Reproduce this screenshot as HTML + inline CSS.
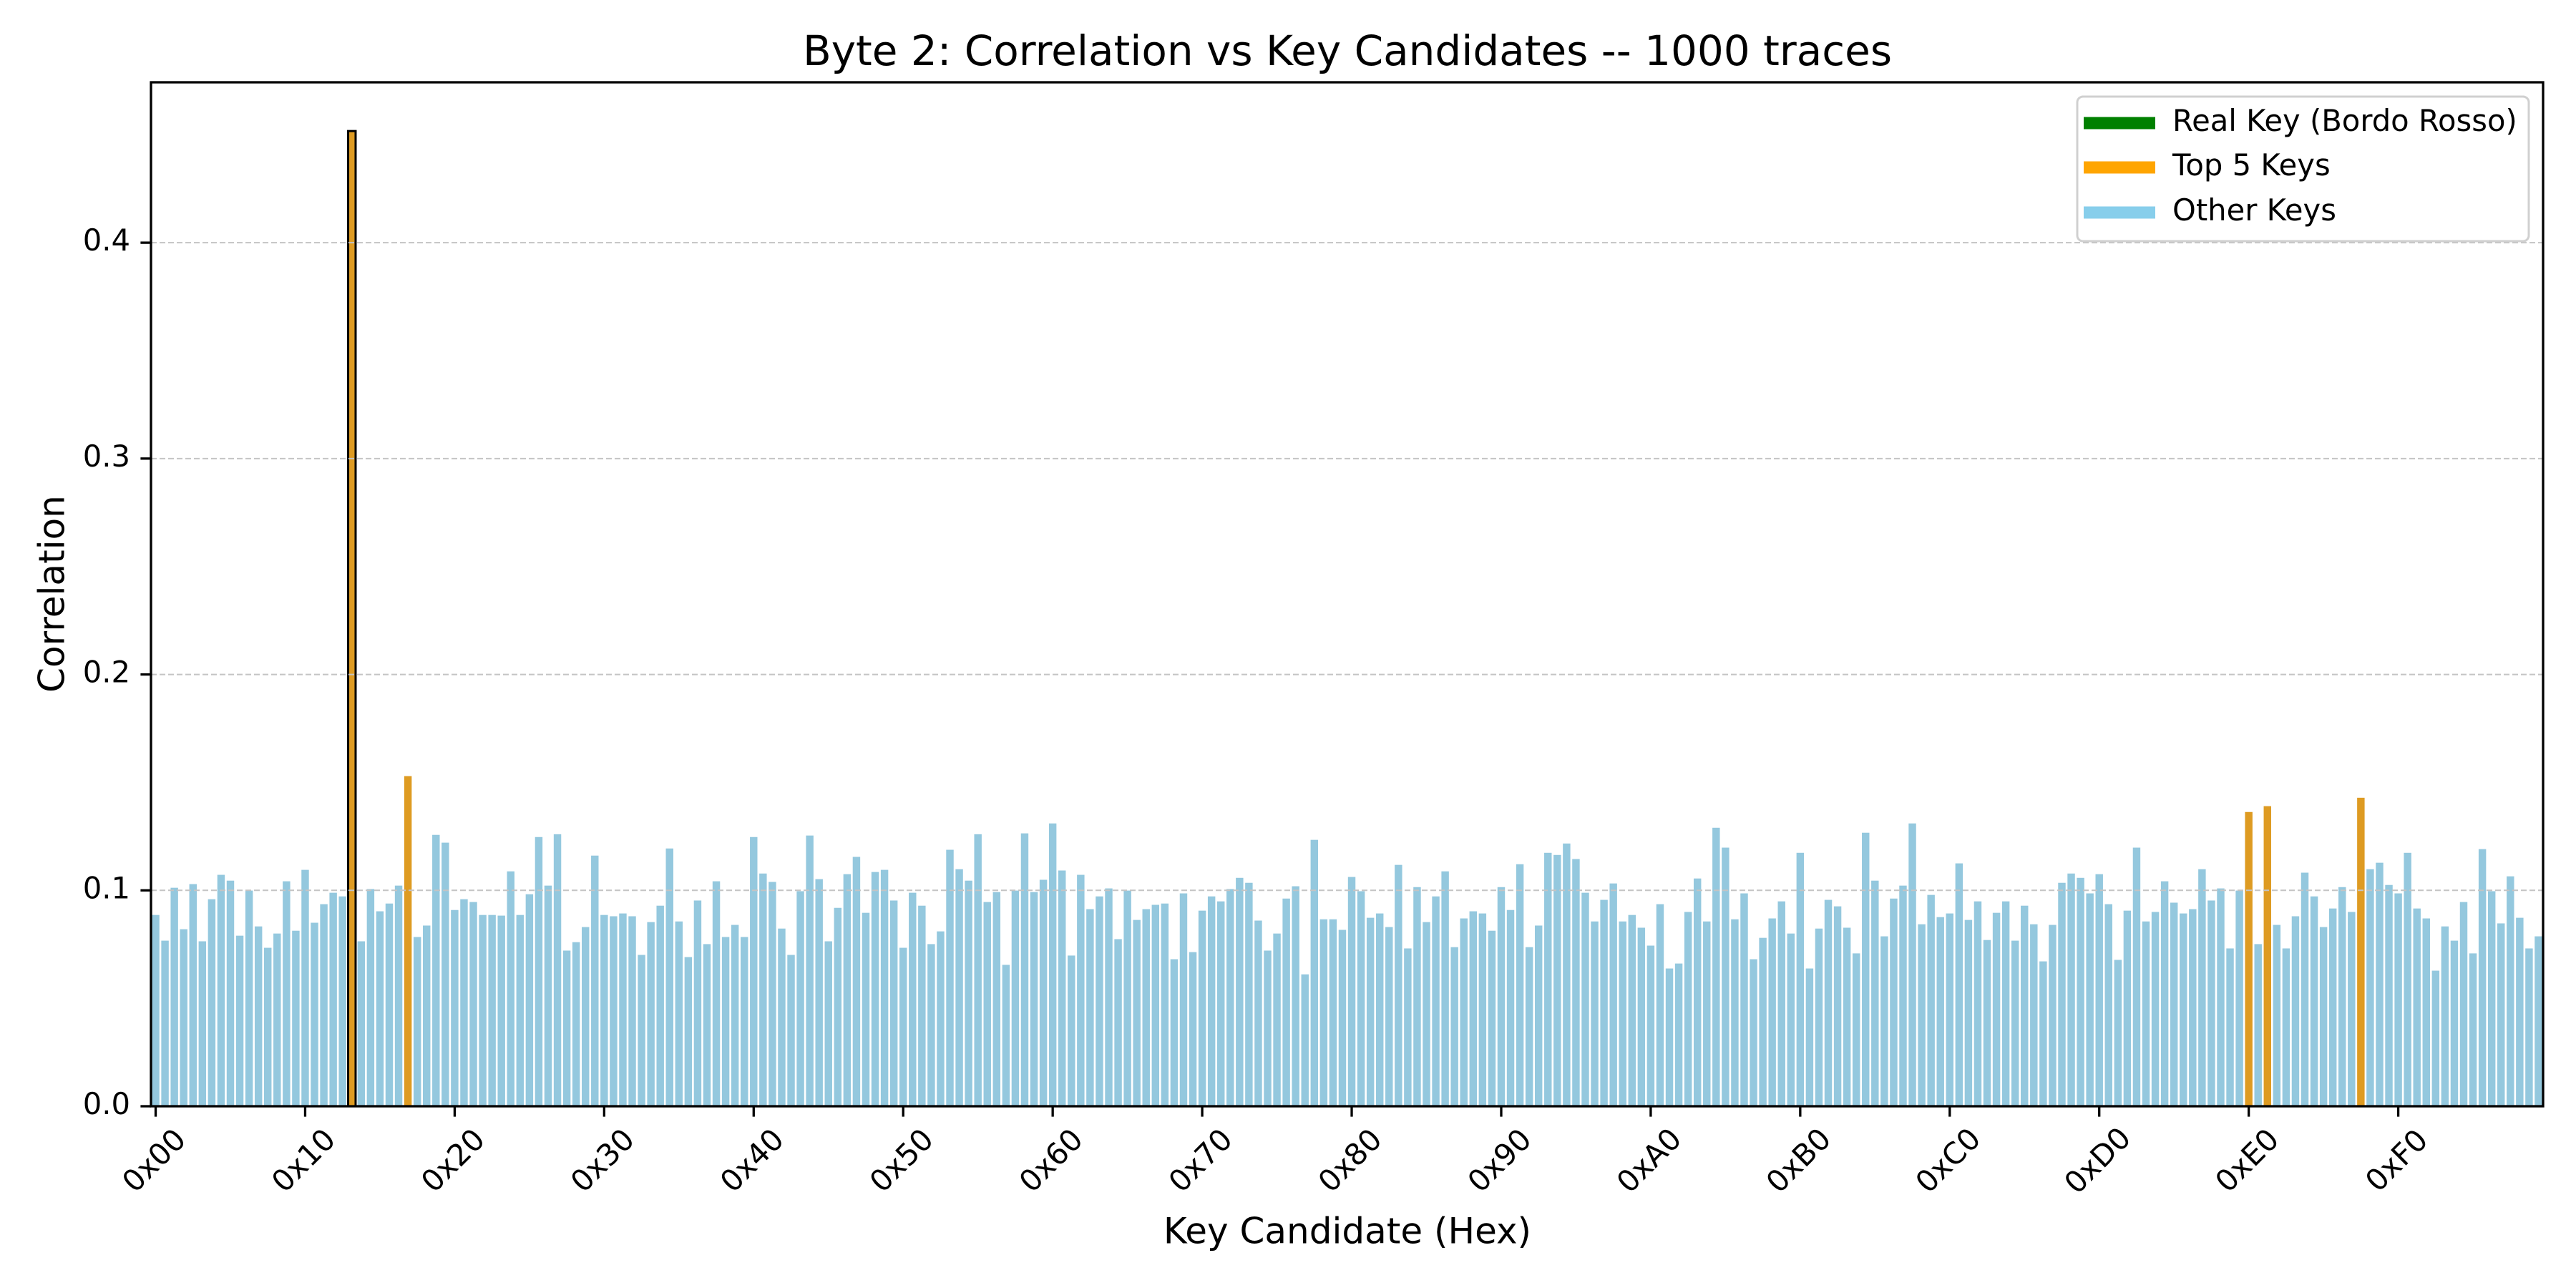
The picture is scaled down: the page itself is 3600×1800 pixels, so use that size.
<!DOCTYPE html>
<html><head><meta charset="utf-8"><style>
html,body{margin:0;padding:0;background:#fff;}
svg{display:block;}
text{font-family:"DejaVu Sans","Liberation Sans",sans-serif;fill:#000;}
</style></head><body>
<svg id="chart" width="3600" height="1800" viewBox="0 0 3600 1800" xmlns="http://www.w3.org/2000/svg">
<rect x="0" y="0" width="3600" height="1800" fill="#fff"/>
<g id="bars"></g>
<g id="grid"></g>
<g id="axes"></g>
<text x="1883" y="75" font-size="58" text-anchor="middle" dominant-baseline="middle">Byte 2: Correlation vs Key Candidates -- 1000 traces</text>
<text x="1883" y="1724" font-size="50" text-anchor="middle" dominant-baseline="middle">Key Candidate (Hex)</text>
<text x="76" y="830" font-size="50" text-anchor="middle" dominant-baseline="middle" transform="rotate(-90 76 830)">Correlation</text>
<g>
<rect x="2903" y="135" width="631" height="202" rx="8" fill="#fff" fill-opacity="0.8" stroke="#d0d0d0" stroke-width="3"/>
<line x1="2912" y1="172" x2="3012" y2="172" stroke="#008000" stroke-width="17"/>
<text x="3036" y="172" font-size="41.7" dominant-baseline="middle">Real Key (Bordo Rosso)</text>
<line x1="2912" y1="234" x2="3012" y2="234" stroke="#FFA500" stroke-width="17"/>
<text x="3036" y="234" font-size="41.7" dominant-baseline="middle">Top 5 Keys</text>
<line x1="2912" y1="297" x2="3012" y2="297" stroke="#87CEEB" stroke-width="17"/>
<text x="3036" y="297" font-size="41.7" dominant-baseline="middle">Other Keys</text>
</g>
</svg>
<script>
const correlations = [
0.0886,0.0767,0.1012,0.0820,0.1029,0.0764,0.0959,0.1072,0.1045,0.0790,0.0999,0.0833,0.0734,0.0800,0.1042,0.0813,
0.1095,0.0850,0.0936,0.0989,0.0972,0.4517,0.0764,0.1006,0.0903,0.0939,0.1022,0.1529,0.0784,0.0837,0.1257,0.1221,
0.0909,0.0959,0.0946,0.0886,0.0886,0.0883,0.1088,0.0886,0.0982,0.1247,0.1022,0.1260,0.0721,0.0760,0.0830,0.1161,
0.0886,0.0880,0.0893,0.0880,0.0701,0.0853,0.0929,0.1194,0.0856,0.0691,0.0953,0.0751,0.1042,0.0784,0.0840,0.0784,
0.1247,0.1078,0.1039,0.0823,0.0701,0.0996,0.1254,0.1052,0.0764,0.0919,0.1075,0.1155,0.0896,0.1085,0.1095,0.0953,
0.0734,0.0989,0.0929,0.0751,0.0810,0.1188,0.1098,0.1045,0.1260,0.0946,0.0992,0.0655,0.0999,0.1264,0.0992,0.1049,
0.1310,0.1092,0.0698,0.1072,0.0913,0.0972,0.1009,0.0774,0.0999,0.0863,0.0913,0.0933,0.0939,0.0681,0.0986,0.0714,
0.0906,0.0972,0.0949,0.1006,0.1058,0.1035,0.0860,0.0721,0.0800,0.0962,0.1019,0.0611,0.1234,0.0866,0.0866,0.0817,
0.1062,0.0996,0.0873,0.0893,0.0830,0.1118,0.0731,0.1015,0.0853,0.0972,0.1088,0.0737,0.0870,0.0903,0.0893,0.0813,
0.1015,0.0909,0.1121,0.0737,0.0837,0.1174,0.1164,0.1217,0.1145,0.0989,0.0856,0.0956,0.1032,0.0856,0.0886,0.0827,
0.0744,0.0936,0.0638,0.0661,0.0900,0.1055,0.0856,0.1290,0.1198,0.0866,0.0986,0.0681,0.0780,0.0870,0.0949,0.0800,
0.1174,0.0638,0.0823,0.0956,0.0926,0.0827,0.0708,0.1267,0.1045,0.0787,0.0962,0.1022,0.1310,0.0843,0.0979,0.0876,
0.0893,0.1125,0.0863,0.0949,0.0770,0.0896,0.0949,0.0767,0.0929,0.0843,0.0671,0.0840,0.1035,0.1078,0.1058,0.0986,
0.1075,0.0936,0.0678,0.0906,0.1198,0.0856,0.0900,0.1042,0.0943,0.0893,0.0913,0.1098,0.0953,0.1009,0.0731,0.0999,
0.1363,0.0751,0.1390,0.0840,0.0731,0.0880,0.1082,0.0972,0.0830,0.0916,0.1015,0.0900,0.1429,0.1098,0.1128,0.1025,
0.0986,0.1174,0.0916,0.0870,0.0628,0.0833,0.0767,0.0946,0.0708,0.1191,0.0996,0.0847,0.1065,0.0873,0.0731,0.0787
];
const topKeys = [21, 27, 224, 226, 236];
const realKey = [21];
const yTicks = [0.0, 0.1, 0.2, 0.3, 0.4];
const yTickLabels = ["0.0", "0.1", "0.2", "0.3", "0.4"];
const xTicks = [0,16,32,48,64,80,96,112,128,144,160,176,192,208,224,240];
const xTickLabels = ["0x00","0x10","0x20","0x30","0x40","0x50","0x60","0x70","0x80","0x90","0xA0","0xB0","0xC0","0xD0","0xE0","0xF0"];

const NS = "http://www.w3.org/2000/svg";
const L = 211, R = 3554, T = 115, B = 1546;
const xMin = -0.5, xMax = correlations.length - 0.5;
const yMax = Math.max(...correlations) * 1.05;
function xs(v){ return L + (v - xMin) / (xMax - xMin) * (R - L); }
function ys(v){ return B - v / yMax * (B - T); }
function mk(tag, attrs, parent){
  const e = document.createElementNS(NS, tag);
  for (const k in attrs) e.setAttribute(k, attrs[k]);
  parent.appendChild(e);
  return e;
}
const barsG = document.getElementById('bars');
const gridG = document.getElementById('grid');
const axesG = document.getElementById('axes');
const bw = (xs(1) - xs(0)) * 0.8;
correlations.forEach((v, i) => {
  const isTop = topKeys.includes(i);
  const isReal = realKey.includes(i);
  const r = mk('rect', {x: xs(i) - bw/2, y: ys(v), width: bw, height: ys(0) - ys(v),
    fill: isTop || isReal ? '#de9b22' : '#94c8de'}, barsG);
  if (isReal) { r.setAttribute('stroke', '#000'); r.setAttribute('stroke-width', '3'); }
  
  
});
yTicks.forEach((t, k) => {
  if (t > 0) {
    const g = mk('line', {x1: L, x2: R, y1: ys(t), y2: ys(t), stroke: '#c4c4c4', 'stroke-width': 2, 'stroke-dasharray': '8,4'}, gridG);
    
    
  }
  const tk = mk('line', {x1: L - 14.6, x2: L, y1: ys(t), y2: ys(t), stroke: '#000', 'stroke-width': 3.3}, axesG);
  
  
  const tx = mk('text', {x: L - 29, y: ys(t), 'font-size': 41.7, 'text-anchor': 'end', 'dominant-baseline': 'middle'}, axesG);
  tx.textContent = yTickLabels[k];
  
  
});
xTicks.forEach((t, k) => {
  const tk = mk('line', {x1: xs(t), x2: xs(t), y1: B, y2: B + 14.6, stroke: '#000', 'stroke-width': 3.3}, axesG);
  
  
  const cx = xs(t), cy = 1624;
  const tx = mk('text', {x: cx, y: cy, 'font-size': 41.7, 'text-anchor': 'middle', 'dominant-baseline': 'middle', transform: 'rotate(-45 ' + cx + ' ' + cy + ')'}, axesG);
  tx.textContent = xTickLabels[k];
  
  
});
const frame = mk('rect', {x: L, y: T, width: R - L, height: B - T, fill: 'none', stroke: '#000', 'stroke-width': 3.3}, axesG);


</script>
</body></html>
